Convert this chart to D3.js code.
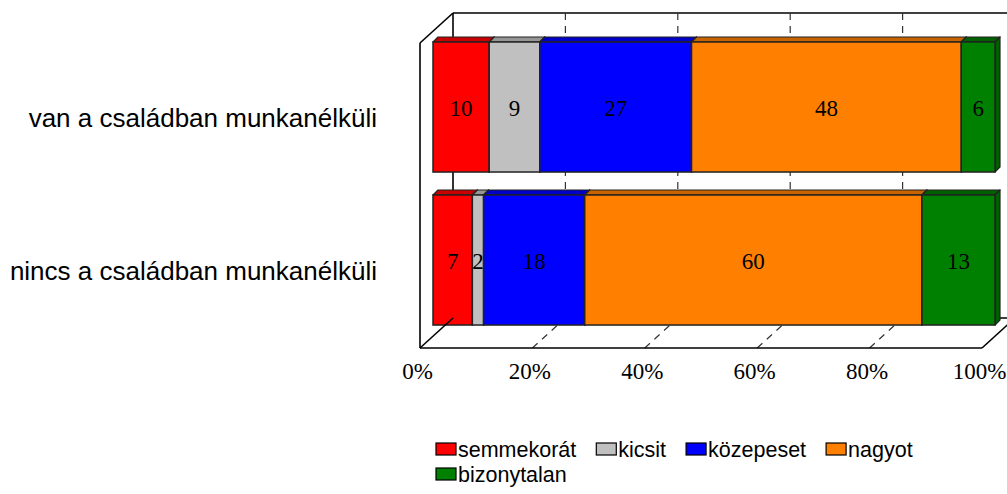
<!DOCTYPE html>
<html>
<head>
<meta charset="utf-8">
<script src="https://cdn.jsdelivr.net/npm/d3@7"></script>
<style>
  html, body { margin: 0; padding: 0; background: #fff; }
  svg { display: block; }
</style>
</head>
<body>
<svg id="chart" width="1007" height="494"></svg>
<script>
// ---- data ----
const categories = ["van a családban munkanélküli", "nincs a családban munkanélküli"];
const seriesNames = ["semmekorát", "kicsit", "közepeset", "nagyot", "bizonytalan"];
const semmekorat = [10, 7];
const kicsit = [9, 2];
const kozepeset = [27, 18];
const nagyot = [48, 60];
const bizonytalan = [6, 13];
const tickValues = [0, 20, 40, 60, 80, 100];

const seriesValues = [semmekorat, kicsit, kozepeset, nagyot, bizonytalan];
const colors = ["#FF0000", "#C0C0C0", "#0000FF", "#FF8000", "#008000"];
const topColors = ["#C80000", "#969696", "#0000C8", "#C86400", "#006000"];

// ---- geometry ----
const svg = d3.select("#chart");
const frontX0 = 420, floorY = 348;
const depthX = 33, depthY = -30;
const wallTop = 13;
const plotW = 562;
const barOffX = 13;
const bd = 5;

const x = d3.scaleLinear().domain([0, 100]).range([0, plotW]);
const y = d3.scaleBand().domain(categories).range([30.5, 336.5])
  .paddingInner(0.15).paddingOuter(0.075);

const lineCol = "#000";
const gridCol = "#333";
const serif = "'Liberation Serif', 'Times New Roman', serif";
const sans = "'Liberation Sans', Arial, sans-serif";

// back wall
const back = svg.append("g");
back.append("line").attr("x1", frontX0 + depthX).attr("y1", wallTop)
  .attr("x2", frontX0 + depthX + plotW).attr("y2", wallTop)
  .attr("stroke", lineCol).attr("stroke-width", 1.6);
back.append("line").attr("x1", frontX0 + depthX).attr("y1", wallTop)
  .attr("x2", frontX0 + depthX).attr("y2", floorY + depthY)
  .attr("stroke", lineCol).attr("stroke-width", 1.6);
back.append("line").attr("x1", frontX0 + depthX).attr("y1", floorY + depthY)
  .attr("x2", frontX0 + depthX + plotW).attr("y2", floorY + depthY)
  .attr("stroke", lineCol).attr("stroke-width", 1.6);
back.selectAll(".wg").data(tickValues.slice(1)).enter().append("line")
  .attr("x1", d => frontX0 + depthX + x(d)).attr("x2", d => frontX0 + depthX + x(d))
  .attr("y1", wallTop).attr("y2", floorY + depthY)
  .attr("stroke", gridCol).attr("stroke-width", 1.2).attr("stroke-dasharray", "7,6");
back.selectAll(".fg").data(tickValues.slice(1, -1)).enter().append("line")
  .attr("x1", d => frontX0 + x(d)).attr("y1", floorY)
  .attr("x2", d => frontX0 + depthX + x(d)).attr("y2", floorY + depthY)
  .attr("stroke", gridCol).attr("stroke-width", 1.2).attr("stroke-dasharray", "7,6");

// bars
const barsG = svg.append("g");
categories.forEach((cat, ci) => {
  let cum = 0;
  const y0 = y(cat), y1 = y(cat) + y.bandwidth();
  seriesValues.forEach((vals, si) => {
    const v = vals[ci];
    const xa = frontX0 + barOffX + x(cum);
    const xb = frontX0 + barOffX + x(cum + v);
    cum += v;
    const g = barsG.append("g");
    g.append("path")
      .attr("d", `M${xa},${y0}L${xb},${y0}L${xb + bd},${y0 - bd}L${xa + bd},${y0 - bd}Z`)
      .attr("fill", topColors[si]).attr("stroke", "#222").attr("stroke-width", 1.2)
      .attr("stroke-linejoin", "round");
    g.append("path")
      .attr("d", `M${xb},${y0}L${xb + bd},${y0 - bd}L${xb + bd},${y1 - bd}L${xb},${y1}Z`)
      .attr("fill", topColors[si]).attr("stroke", "#222").attr("stroke-width", 1.2)
      .attr("stroke-linejoin", "round");
    g.append("rect")
      .attr("x", xa).attr("y", y0).attr("width", xb - xa).attr("height", y1 - y0)
      .attr("fill", colors[si]).attr("stroke", "#222").attr("stroke-width", 1.5);
    g.append("text")
      .attr("x", (xa + xb) / 2).attr("y", (y0 + y1) / 2 + 8.5)
      .attr("text-anchor", "middle")
      .attr("font-family", serif)
      .attr("font-size", 23).attr("fill", "#000")
      .text(v);
  });
});

// front frame
const front = svg.append("g").attr("stroke", lineCol).attr("stroke-width", 1.6).attr("fill", "none");
front.append("line").attr("x1", frontX0).attr("y1", wallTop - depthY)
  .attr("x2", frontX0 + depthX).attr("y2", wallTop);
front.append("line").attr("x1", frontX0).attr("y1", wallTop - depthY)
  .attr("x2", frontX0).attr("y2", floorY);
front.append("line").attr("x1", frontX0).attr("y1", floorY)
  .attr("x2", frontX0 + plotW).attr("y2", floorY);
front.append("line").attr("x1", frontX0).attr("y1", floorY)
  .attr("x2", frontX0 + depthX).attr("y2", floorY + depthY);
front.append("line").attr("x1", frontX0 + plotW).attr("y1", floorY)
  .attr("x2", frontX0 + plotW + depthX).attr("y2", floorY + depthY);

// x axis labels
const axis = d3.axisBottom(x).tickValues(tickValues).tickFormat(d => d + "%")
  .tickSize(0).tickPadding(15);
const axG = svg.append("g").attr("transform", `translate(${frontX0 - 3},${floorY})`).call(axis);
axG.select(".domain").remove();
axG.selectAll("text")
  .attr("font-family", serif)
  .attr("font-size", 23).attr("fill", "#000");

// category labels
svg.selectAll(".cat").data(categories).enter().append("text")
  .attr("x", 377).attr("y", d => y(d) + y.bandwidth() / 2 + 20)
  .attr("text-anchor", "end")
  .attr("font-family", sans)
  .attr("font-size", 26).attr("fill", "#000")
  .text(d => d);

// legend
const leg = svg.append("g").attr("font-family", sans).attr("font-size", 21.5);
let lx = 436, ly = 443;
const legMaxX = 960;
seriesNames.forEach((name, i) => {
  const t = leg.append("text").attr("y", ly + 14).text(name).attr("fill", "#000");
  const w = t.node().getComputedTextLength();
  if (lx + 22 + w > legMaxX) { lx = 436; ly += 25; }
  t.attr("x", lx + 22).attr("y", ly + 14);
  leg.append("rect").attr("x", lx).attr("y", ly).attr("width", 20).attr("height", 12)
    .attr("fill", colors[i]).attr("stroke", "#000").attr("stroke-width", 1.2);
  lx += 22 + w + 20;
});
</script>
</body>
</html>
